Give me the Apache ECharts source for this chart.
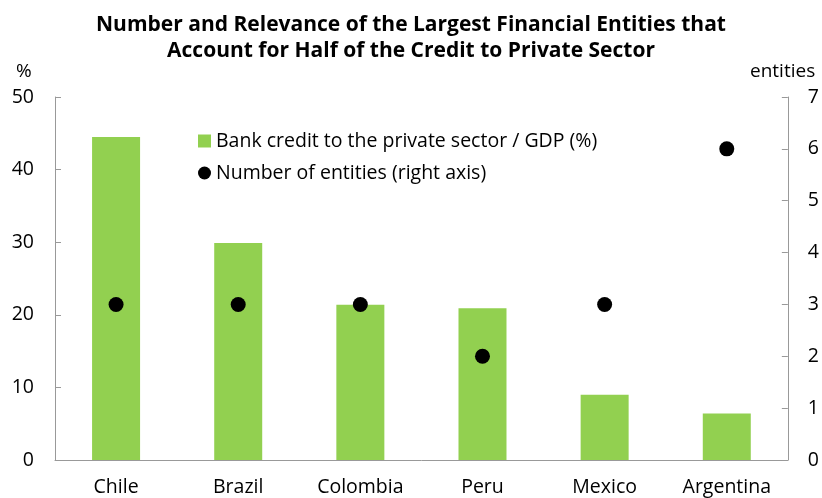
<!DOCTYPE html>
<html>
<head>
<meta charset="utf-8">
<script src="https://cdn.jsdelivr.net/npm/echarts@6/dist/echarts.min.js"></script>
<style>html,body{margin:0;padding:0;background:#fff;}#c{width:822px;height:498px;}</style>
</head>
<body>
<div id="c"></div>
<script>
const categories = ['Chile', 'Brazil', 'Colombia', 'Peru', 'Mexico', 'Argentina'];
const creditGDP = [44.5, 29.9, 21.4, 20.9, 9.0, 6.4];
const entities = [3, 3, 3, 2, 3, 6];
const seriesNames = ['Bank credit to the private sector / GDP (%)', 'Number of entities (right axis)'];
const titleText = 'Number and Relevance of the Largest Financial Entities that\nAccount for Half of the Credit to Private Sector';
const FONT = '"Open Sans", Lato, sans-serif';

const chart = echarts.init(document.getElementById('c'), null, {renderer: 'canvas'});
chart.setOption({
  animation: false,
  backgroundColor: '#fff',
  title: {
    text: titleText,
    left: 'center',
    top: 7,
    textStyle: {fontFamily: FONT, fontWeight: 'bold', fontSize: 21, color: '#000', lineHeight: 26}
  },
  grid: {left: 55, right: 33, top: 97, bottom: 38},
  legend: {
    orient: 'vertical',
    left: 193,
    top: 126,
    itemGap: 12,
    itemWidth: 13,
    itemHeight: 13,
    textStyle: {fontFamily: FONT, fontSize: 19.5, color: '#000'},
    data: [
      {name: seriesNames[0], icon: 'rect'},
      {name: seriesNames[1], icon: 'circle'}
    ]
  },
  graphic: [
    {type: 'text', left: 16, top: 62, style: {text: '%', font: '19px ' + FONT, fill: '#000'}},
    {type: 'text', left: 750, top: 62, style: {text: 'entities', font: '19px ' + FONT, fill: '#000'}}
  ],
  xAxis: {
    type: 'category',
    data: categories,
    axisLine: {lineStyle: {color: '#999'}},
    axisTick: {show: false},
    axisLabel: {fontFamily: FONT, fontSize: 19.5, color: '#000', margin: 17}
  },
  yAxis: [
    {
      type: 'value', min: 0, max: 50, interval: 10,
      axisLine: {show: true, lineStyle: {color: '#999'}},
      axisTick: {show: true, inside: true, length: 6, lineStyle: {color: '#999'}},
      splitLine: {show: false},
      axisLabel: {fontFamily: FONT, fontSize: 19.5, color: '#000', margin: 21}
    },
    {
      type: 'value', min: 0, max: 7, interval: 1, position: 'right',
      axisLine: {show: true, lineStyle: {color: '#999'}},
      axisTick: {show: true, inside: true, length: 6, lineStyle: {color: '#999'}},
      splitLine: {show: false},
      axisLabel: {fontFamily: FONT, fontSize: 19.5, color: '#000', margin: 20}
    }
  ],
  series: [
    {
      name: seriesNames[0],
      type: 'bar',
      data: creditGDP,
      barWidth: 48,
      itemStyle: {color: '#92d050'}
    },
    {
      name: seriesNames[1],
      type: 'scatter',
      yAxisIndex: 1,
      data: entities,
      symbol: 'circle',
      symbolSize: 15,
      itemStyle: {color: '#000', opacity: 1}
    }
  ]
});
</script>
</body>
</html>
